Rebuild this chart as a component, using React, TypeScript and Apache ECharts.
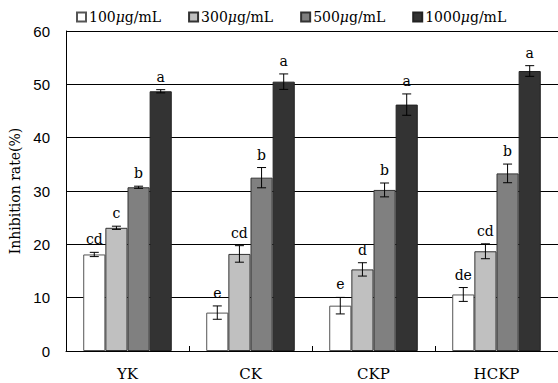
import React, { useEffect, useRef } from "react";
import * as echarts from "echarts";

const categories = ["YK", "CK", "CKP", "HCKP"];
const seriesNames = ["100μg/mL", "300μg/mL", "500μg/mL", "1000μg/mL"];
const v100 = [18.1, 7.2, 8.5, 10.6];
const v300 = [23.1, 18.2, 15.3, 18.7];
const v500 = [30.7, 32.5, 30.2, 33.3];
const v1000 = [48.7, 50.5, 46.2, 52.5];
const e100 = [0.4, 1.25, 1.55, 1.3];
const e300 = [0.3, 1.55, 1.25, 1.4];
const e500 = [0.2, 1.9, 1.3, 1.75];
const e1000 = [0.3, 1.45, 2.0, 1.0];
const l100 = ["cd", "e", "e", "de"];
const l300 = ["c", "cd", "d", "cd"];
const l500 = ["b", "b", "b", "b"];
const l1000 = ["a", "a", "a", "a"];
const yTicks = { min: 0, max: 60, interval: 10 };

const values = [v100, v300, v500, v1000];
const errors = [e100, e300, e500, e1000];
const letters = [l100, l300, l500, l1000];
const colors = ["#ffffff", "#c0c0c0", "#808080", "#333333"];
const borders = ["#555555", "#333333", "#333333", "#222222"];
const CAT_GAP = 0.28;

export default function App() {
  const ref = useRef<HTMLDivElement>(null);
  useEffect(() => {
    if (!ref.current) return;
    const chart = echarts.init(ref.current, null, { renderer: "svg" });
    const barSeries = values.map((vals, k) => ({
      name: seriesNames[k],
      type: "bar",
      data: vals,
      barGap: "0%",
      barCategoryGap: (CAT_GAP * 100).toFixed(0) + "%",
      itemStyle: { color: colors[k], borderColor: borders[k], borderWidth: 1 },
      z: 2,
    }));
    const errSeries = values.map((vals, k) => ({
      name: "err" + k,
      type: "custom",
      z: 5,
      clip: false,
      data: vals.map((v, i) => [i, v, errors[k][i]]),
      renderItem: (params: any, api: any) => {
        const i = api.value(0);
        const v = api.value(1);
        const e = api.value(2);
        const band = api.size([1, 0])[0];
        const bw = (band * (1 - CAT_GAP)) / 4;
        const cx = api.coord([i, v])[0] + (k - 1.5) * bw;
        const yt = api.coord([i, v + e])[1];
        const yb = api.coord([i, v - e])[1];
        const cap = 4.5;
        const ls = { stroke: "#000", lineWidth: 1 };
        return {
          type: "group",
          children: [
            { type: "line", shape: { x1: cx, y1: yt, x2: cx, y2: yb }, style: ls },
            { type: "line", shape: { x1: cx - cap, y1: yt, x2: cx + cap, y2: yt }, style: ls },
            { type: "line", shape: { x1: cx - cap, y1: yb, x2: cx + cap, y2: yb }, style: ls },
            {
              type: "text",
              style: {
                text: letters[k][params.dataIndex],
                x: cx,
                y: yt - 6,
                align: "center",
                verticalAlign: "bottom",
                fill: "#000",
                font: "14px 'DejaVu Serif'",
              },
            },
          ],
        };
      },
    }));
    chart.setOption({
      animation: false,
      backgroundColor: "#ffffff",
      grid: { left: 61, right: -1, top: 31, bottom: 32, containLabel: false },
      legend: {
        data: seriesNames,
        left: 76,
        top: 10,
        padding: 0,
        icon: "rect",
        itemWidth: 9,
        itemHeight: 9,
        itemGap: 27,
        textStyle: {
          fontFamily: "DejaVu Serif",
          fontSize: 14,
          color: "#000",
          padding: [0, 0, 0, -2],
          rich: { i: { fontStyle: "italic", fontFamily: "DejaVu Serif", fontSize: 14, color: "#000" } },
        },
        formatter: (name: string) => name.replace("μ", "{i|μ}"),
      },
      xAxis: {
        type: "category",
        data: categories,
        axisLine: { lineStyle: { color: "#000", width: 1 } },
        axisTick: { show: true, inside: true, length: 5, lineStyle: { color: "#000" } },
        axisLabel: {
          fontFamily: "DejaVu Serif",
          fontSize: 15,
          color: "#000",
          margin: 15,
        },
      },
      yAxis: {
        type: "value",
        min: yTicks.min,
        max: yTicks.max,
        interval: yTicks.interval,
        name: "Inhibition rate(%)",
        nameLocation: "middle",
        nameGap: 44,
        nameTextStyle: { fontFamily: "DejaVu Serif", fontSize: 14, color: "#000" },
        axisLine: { show: true, lineStyle: { color: "#000", width: 1 } },
        axisTick: { show: false },
        axisLabel: {
          fontFamily: "Liberation Sans",
          fontSize: 15,
          color: "#000",
          margin: 16,
        },
        splitLine: { show: true, lineStyle: { color: "#000", width: 1 } },
      },
      series: [...barSeries, ...errSeries],
    });
    return () => chart.dispose();
  }, []);
  return (
    <div
      ref={ref}
      style={{ position: "fixed", left: 0, top: 0, width: 558, height: 383, background: "#fff" }}
    />
  );
}
